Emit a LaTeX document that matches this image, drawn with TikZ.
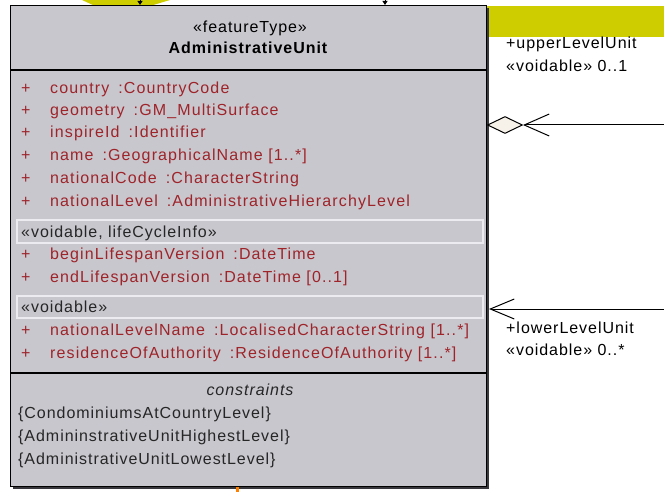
\documentclass[tikz,border=0pt]{standalone}
\usepackage{fontspec}
\setmainfont{Liberation Sans}[LetterSpace=6.0]
\usetikzlibrary{shapes.geometric,arrows.meta}
\definecolor{classgray}{RGB}{200,199,205}
\definecolor{shadowgray}{RGB}{55,55,60}
\definecolor{attrred}{RGB}{158,36,42}
\definecolor{umlyellow}{RGB}{205,205,0}
\definecolor{diamondfill}{RGB}{246,241,233}
\definecolor{stereoline}{RGB}{236,236,240}
\newcommand{\attrgap}{\hspace{9pt}}
\newcommand{\plusbox}{\makebox[29pt][l]{+}}
\tikzset{
  classbox/.style={draw=black, line width=1.2pt, fill=classgray, inner sep=0pt},
  txt/.style={anchor=west, inner sep=0pt, text height=11pt, text depth=0pt, font=\fontsize{16}{18}\selectfont},
  attr/.style={txt, text=attrred, font=\fontsize{16}{18}\selectfont\addfontfeature{LetterSpace=7.0}},
  cons/.style={txt, text=black!85},
  title/.style={inner sep=0pt, text height=11pt, text depth=0pt, font=\fontsize{16}{18}\selectfont},
  stereobox/.style={draw=stereoline, line width=1.2pt},
  aggdiamond/.style={diamond, draw=black, line width=1pt, fill=diamondfill, minimum width=35pt, minimum height=17pt, inner sep=0pt},
  assoc/.style={draw=black, line width=1pt}
}
\begin{document}
\begin{tikzpicture}[x=1pt,y=-1pt]
    \useasboundingbox (0,0) rectangle (664,492);
    % yellow shapes behind the class
    \fill[umlyellow] (487,6) rectangle (664,37);
    \fill[umlyellow] (82,0) -- (170,0) -- (150,6) -- (95,6) -- cycle;
    % class box with its shadow
    \fill[shadowgray] (13,8) rectangle (489,489);
    \node[classbox, anchor=north west, minimum width=476pt, minimum height=481pt] (cls) at (10,5) {};
    \draw[line width=1.2pt] (10,70) -- (486,70);
    \draw[line width=1.2pt] (10,373) -- (486,373);
    % name compartment
    \node[title] (stereo) at (250,27) {«featureType»};
    \node[title, font=\fontsize{16}{18}\selectfont\bfseries] (clsName) at (248,48) {AdministrativeUnit};
    % attributes
    \node[attr] (country) at (21,88) {\plusbox country\attrgap:CountryCode};
    \node[attr] (geometry) at (21,110) {\plusbox geometry\attrgap:GM\_MultiSurface};
    \node[attr] (inspireId) at (21,132) {\plusbox inspireId\attrgap:Identifier};
    \node[attr] (name) at (21,155) {\plusbox name\attrgap:GeographicalName [1..*]};
    \node[attr] (natCode) at (21,178) {\plusbox nationalCode\attrgap:CharacterString};
    \node[attr] (natLevel) at (21,201) {\plusbox nationalLevel\attrgap:AdministrativeHierarchyLevel};
    \draw[stereobox] (17,220) rectangle (483,243);
    \node[cons] (lcInfo) at (21,231.5) {«voidable, lifeCycleInfo»};
    \node[attr] (beginLs) at (21,254) {\plusbox beginLifespanVersion\attrgap:DateTime};
    \node[attr] (endLs) at (21,277) {\plusbox endLifespanVersion\attrgap:DateTime [0..1]};
    \draw[stereobox] (17,296) rectangle (483,318);
    \node[cons] (voidable) at (21,307) {«voidable»};
    \node[attr] (natLevelName) at (21,330) {\plusbox nationalLevelName\attrgap:LocalisedCharacterString [1..*]};
    \node[attr] (residence) at (21,353) {\plusbox residenceOfAuthority\attrgap:ResidenceOfAuthority [1..*]};
    % constraints
    \node[title, font=\fontsize{16}{18}\selectfont\itshape, text=black!85] (consHead) at (250,390) {constraints};
    \node[cons] (consA) at (18,413) {\{CondominiumsAtCountryLevel\}};
    \node[cons] (consB) at (18,436) {\{AdmininstrativeUnitHighestLevel\}};
    \node[cons] (consC) at (18,459) {\{AdministrativeUnitLowestLevel\}};
    \fill[orange] (236,487) rectangle (239,492);
    % incoming links at the top
    \coordinate (inA) at (140,0);
    \coordinate (inB) at (385,0);
    \draw[line width=0.8pt, -{Triangle[length=4pt,width=5pt]}] (inA) -- (inA |- cls.north);
    \draw[line width=0.8pt, -{Triangle[length=4pt,width=5pt]}] (inB) -- (inB |- cls.north);
    % upper level association
    \node[aggdiamond] (agg) at (505,125) {};
    \coordinate (upEnd) at (664,125);
    \draw[assoc, -{Straight Barb[length=25pt,width=22pt]}] (upEnd) -- (agg.east);
    \node[txt] (upRole) at (506,43) {+upperLevelUnit};
    \node[txt] (upMult) at (506,66) {«voidable» 0..1};
    % lower level association
    \coordinate (lowEnd) at (664,309);
    \coordinate (lowTip) at (489,309);
    \draw[assoc, -{Straight Barb[length=24pt,width=20pt]}] (lowEnd) -- (lowTip);
    \node[txt] (lowRole) at (506,328) {+lowerLevelUnit};
    \node[txt] (lowMult) at (506,350) {«voidable» 0..*};
\end{tikzpicture}
\end{document}
